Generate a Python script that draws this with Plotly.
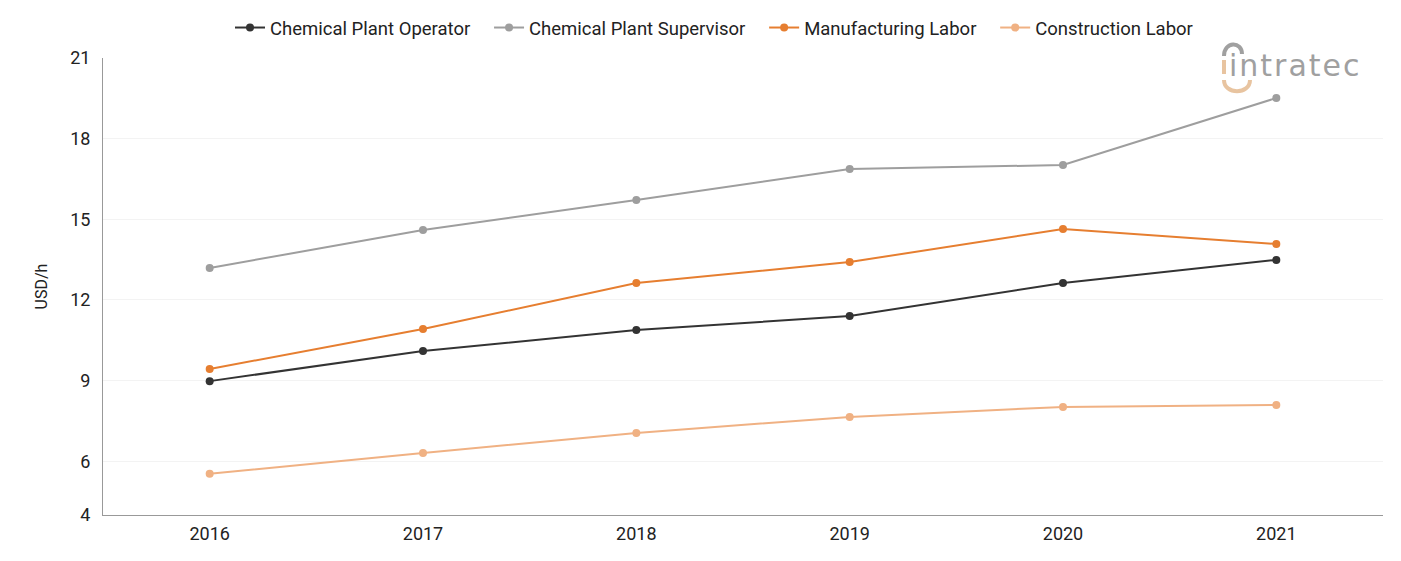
import plotly.graph_objects as go

years = [2016, 2017, 2018, 2019, 2020, 2021]
operator = [8.98, 10.10, 10.88, 11.40, 12.63, 13.49]
supervisor = [13.19, 14.60, 15.72, 16.87, 17.02, 19.51]
manufacturing = [9.43, 10.92, 12.63, 13.41, 14.64, 14.08]
construction = [5.53, 6.31, 7.05, 7.65, 8.02, 8.09]
y_ticks = [4, 6, 9, 12, 15, 18, 21]

series = [
    ("Chemical Plant Operator", operator, "#333333"),
    ("Chemical Plant Supervisor", supervisor, "#9e9e9e"),
    ("Manufacturing Labor", manufacturing, "#e67e30"),
    ("Construction Labor", construction, "#f0b183"),
]

W, H = 1401, 561
ML, MR, MT, MB = 103, 18, 58, 46
PW, PH = W - ML - MR, H - MT - MB


def px(x):
    return (x - ML) / PW


def py(y):
    return (H - MB - y) / PH


PAD = "\u00a0\u00a0\u00a0"

fig = go.Figure()
for name, vals, col in series:
    fig.add_trace(go.Scatter(
        x=years, y=vals, name=name + PAD, mode="lines+markers",
        line=dict(color=col, width=2), marker=dict(color=col, size=8),
    ))

fig.update_layout(
    width=W, height=H,
    margin=dict(l=ML, r=MR, t=MT, b=MB, autoexpand=False),
    paper_bgcolor="white", plot_bgcolor="white",
    font=dict(family="Roboto", size=16, color="#222222"),
    legend=dict(orientation="h", xref="container", x=230 / W, xanchor="left",
                yref="container", y=1 - 28 / H, yanchor="middle",
                font=dict(size=18.5), itemwidth=30),
    xaxis=dict(range=[2015.5, 2021.5], tickvals=years, showgrid=False,
               showline=True, linecolor="#999999", linewidth=1, ticks="",
               tickfont=dict(size=18), zeroline=False, ticklabelstandoff=2),
    yaxis=dict(range=[4, 21], tickvals=y_ticks, showgrid=True, gridcolor="#f3f3f3",
               showline=True, linecolor="#999999", linewidth=1, zeroline=False,
               tickfont=dict(size=18), ticks="", ticklabelstandoff=8,
               title=dict(text="USD/h", font=dict(size=16), standoff=18)),
)

# logo
fig.add_annotation(
    xref="paper", yref="paper", x=px(1364), xanchor="right", y=py(66), yanchor="middle",
    showarrow=False, text="<span style='letter-spacing:2px'>intratec</span>",
    font=dict(family="DejaVu Sans", size=30, color="#a0a0a0"),
)
tan = "#e8c4a0"
grey = "#a0a0a0"
fig.add_shape(type="line", xref="paper", yref="paper",
              x0=px(1224), x1=px(1224), y0=py(60), y1=py(74),
              line=dict(color=tan, width=4))
fig.add_shape(type="path", xref="paper", yref="paper",
              path=f"M {px(1224)},{py(80)} C {px(1224)},{py(95)} {px(1250)},{py(95)} {px(1250)},{py(80)}",
              line=dict(color=tan, width=4))
fig.add_shape(type="path", xref="paper", yref="paper",
              path=f"M {px(1224)},{py(56)} C {px(1224)},{py(41)} {px(1242)},{py(41)} {px(1242)},{py(54)}",
              line=dict(color=grey, width=4))

fig.write_html("out.html")
